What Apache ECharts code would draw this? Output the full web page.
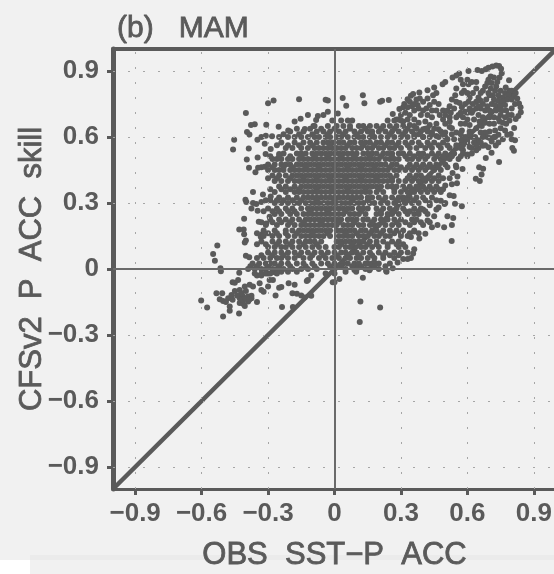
<!DOCTYPE html>
<html>
<head>
<meta charset="utf-8">
<style>html,body{margin:0;padding:0;background:#f1f1f1}#chart{width:554px;height:574px}</style>
<script src="https://cdn.jsdelivr.net/npm/echarts@6/dist/echarts.min.js"></script>
</head>
<body>
<div id="chart"></div>
<script>
const tickValues = [-0.9, -0.6, -0.3, 0, 0.3, 0.6, 0.9]
const tickLabels = ['\u22120.9', '\u22120.6', '\u22120.3', '0', '0.3', '0.6', '0.9']
const diagonal = [[-1, -1], [1, 1]]

// scattered points read one by one, [obs, cfs]
const leftEdge = [[-.275,.766],[-.30,.753],[-.16,.772],[-.04,.769],[-.03,.766],[-.40,.709],[-.03,.715],[-.12,.70],[-.075,.695],[-.05,.70],[-.153,.683],[-.18,.671],[-.083,.677],[-.36,.658],[-.377,.655],[-.308,.656],[-.252,.647],[-.134,.636],[-.095,.65],[-.209,.63],[-.395,.623],[-.384,.611],[-.453,.588],[-.348,.587],[-.33,.60],[-.31,.606],[-.282,.603],[-.458,.543],[-.387,.548],[-.315,.569],[-.288,.546],[-.396,.498],[-.347,.507],[-.311,.523],[-.25,.523],[-.386,.46],[-.345,.46],[-.357,.44],[-.315,.465],[-.28,.50],[-.368,.35],[-.323,.339],[-.288,.33],[-.402,.315],[-.398,.305],[-.368,.30],[-.353,.295],[-.375,.275],[-.33,.305],[-.31,.312],[-.347,.265],[-.408,.228],[-.342,.215],[-.308,.207],[-.293,.237],[-.43,.18],[-.41,.18],[-.408,.158],[-.327,.158],[-.333,.147],[-.40,.13],[-.405,.12],[-.529,.107],[-.548,.068],[-.54,.038],[-.515,.003],[-.513,-.01],[-.40,.06],[-.385,.053]]
const lowerLeft = [[-.43,-.017],[-.46,-.06],[-.45,-.062],[-.435,-.05],[-.533,-.11],[-.507,-.11],[-.602,-.143],[-.575,-.175],[-.503,-.216],[-.431,-.202],[-.473,-.17],[-.473,-.19],[-.518,-.137],[-.503,-.145],[-.48,-.133],[-.465,-.118],[-.45,-.10],[-.428,-.095],[-.405,-.08],[-.383,-.072],[-.368,-.08],[-.338,-.065],[-.33,-.095],[-.32,-.103],[-.293,-.05],[-.30,-.08],[-.278,-.05],[-.428,-.133],[-.413,-.125],[-.39,-.125],[-.375,-.122],[-.428,-.155],[-.413,-.158],[-.39,-.148],[-.405,-.168],[-.375,-.133],[-.35,-.15],[-.266,-.12],[-.25,-.085],[-.24,-.082],[-.207,-.065],[-.18,-.072],[-.19,-.11],[-.17,-.113],[-.15,-.12],[-.135,-.13],[-.105,-.122],[-.237,-.173],[-.188,-.173],[-.125,-.055],[-.12,-.05],[-.105,-.03],[-.35,-.03],[-.33,-.03],[-.30,-.02],[-.27,-.015],[-.24,-.012],[-.21,-.012],[-.17,-.012],[-.415,-.14],[-.40,-.135],[-.385,-.14],[-.42,-.11],[-.40,-.10],[-.44,-.12],[-.46,-.14],[-.49,-.15]]
const aroundOrigin = [[0,-.06],[-.008,-.06],[.022,-.045],[.128,-.04],[.05,-.012],[.098,-.012],[.158,-.006],[.235,-.012],[.117,-.148],[.206,-.175],[.114,-.241],[.31,.045],[.263,.003],[.233,-.008],[.18,.03],[.17,.015],[.10,.01],[.09,-.005],[.15,.025],[.285,.03],[.345,.05],[.355,.07],[.36,.09],[.33,.045]]
const lowerRight = [[.529,.127],[.41,.16],[.383,.139],[.345,.146],[.36,.17],[.538,.332],[.544,.297],[.575,.285],[.5,.30],[.497,.295],[.536,.232],[.51,.24],[.53,.20],[.495,.19],[.465,.20],[.44,.19],[.45,.24],[.42,.25],[.46,.27],[.42,.22],[.40,.27],[.48,.31],[.43,.29],[.47,.28],[.52,.335],[.50,.38],[.53,.385],[.553,.39],[.578,.455],[.555,.42],[.533,.436],[.548,.47],[.653,.463],[.671,.456],[.664,.43],[.638,.41],[.656,.40],[.743,.486],[.709,.528],[.683,.505],[.695,.553],[.728,.561],[.71,.58],[.725,.60]]
const upperArc = [[.743,.923],[.73,.925],[.713,.92],[.695,.915],[.683,.908],[.665,.90],[.646,.905],[.605,.90],[.563,.889],[.55,.88],[.533,.87],[.488,.84],[.50,.85],[.45,.825],[.42,.813],[.383,.802],[.345,.787],[.355,.795],[.33,.772],[.34,.76],[.315,.75],[.293,.727],[.31,.735],[.263,.705],[.128,.79],[.135,.753],[.037,.777],[.053,.742],[.206,.76],[.215,.765],[.245,.768],[.015,.707],[.40,.76],[.42,.775],[.445,.79],[.46,.80],[.415,.73],[.38,.73],[.375,.745],[.36,.72],[.34,.70],[.39,.70],[.42,.70],[.44,.69],[.46,.66],[.475,.70],[.49,.68],[.52,.645],[.33,.735],[.35,.74],[.32,.71],[.30,.70],[.28,.68],[.33,.68],[.36,.68],[.41,.67],[.43,.655],[.38,.665],[.40,.635],[.44,.62],[.47,.635],[.50,.62],[.53,.64],[.55,.62],[.57,.66],[.56,.70],[.52,.69],[.49,.72],[.47,.75],[.45,.76],[.43,.745]]
const rightArms = [[.752,.91],[.755,.89],[.745,.87],[.735,.85],[.73,.83],[.725,.81],[.715,.79],[.72,.87],[.705,.875],[.695,.86],[.69,.845],[.68,.83],[.67,.81],[.66,.80],[.65,.78],[.64,.76],[.625,.75],[.61,.73],[.60,.71],[.58,.69],[.60,.86],[.62,.85],[.64,.85],[.605,.84],[.585,.81],[.575,.80],[.60,.80],[.57,.86],[.58,.84],[.55,.82],[.545,.79],[.53,.77],[.52,.74],[.51,.72],[.50,.70],[.55,.76],[.565,.755],[.54,.73],[.525,.71],[.788,.858],[.773,.825],[.79,.81],[.80,.81],[.818,.80],[.81,.785],[.825,.775],[.833,.752],[.84,.735],[.841,.713],[.818,.682],[.83,.695],[.811,.641],[.796,.614],[.815,.585],[.80,.59],[.803,.55],[.81,.538],[.75,.81],[.77,.80],[.785,.79],[.74,.79],[.76,.78],[.78,.77],[.80,.77],[.72,.77],[.74,.765],[.76,.76],[.71,.75],[.69,.74],[.725,.745],[.75,.74],[.77,.745],[.68,.72],[.66,.73],[.64,.73],[.70,.72],[.73,.72],[.755,.72],[.775,.72],[.65,.70],[.62,.71],[.60,.68],[.63,.68],[.67,.69],[.70,.69],[.75,.70],[.77,.69],[.61,.655],[.64,.64],[.665,.65],[.72,.66],[.745,.67],[.775,.66],[.75,.64],[.77,.63],[.70,.625],[.725,.63],[.74,.61],[.68,.62],[.66,.62],[.69,.60],[.76,.59],[.78,.61],[.74,.575]]
const upperWeb = [[.575,.735],[.59,.75],[.605,.76],[.59,.715],[.57,.71],[.55,.69],[.59,.66],[.575,.63],[.61,.625],[.635,.60],[.60,.59],[.65,.585],[.67,.60],[.70,.595],[.72,.60],[.655,.67],[.68,.665],[.70,.66],[.72,.69],[.74,.685],[.785,.70],[.80,.73],[.815,.75],[.80,.70],[.79,.675],[.76,.665],[.67,.75],[.685,.77],[.70,.79],[.66,.765],[.65,.74],[.625,.72],[.695,.80],[.705,.82],[.71,.845],[.64,.82],[.625,.80],[.61,.78],[.46,.72],[.44,.72],[.40,.72],[.385,.775],[.37,.77],[.36,.75],[.29,.68],[.31,.67],[.34,.655],[.37,.64],[.42,.64],[.36,.61],[.40,.60],[.46,.605],[.51,.59],[.54,.59],[.57,.59],[.55,.55],[.58,.54],[.61,.555],[.64,.54],[.60,.52],[.67,.56],[.50,.66],[.52,.67]]

// dense cloud, one list of obs values for each cfs level
const cfsLevels = [.675,.65,.625,.60,.575,.55,.525,.50,.475,.45,.425,.40,.375,.35,.325,.30,.275,.25,.225,.20,.175,.15,.125,.10,.075,.05,.025,0,-.02]
const obs0675 = [-.01,.03,.06,.08,.24,.27,.30]
const obs0650 = [-.09,-.03,.01,.04,.07,.11,.13,.16,.19,.22,.25,.28,.31,.36]
const obs0625 = [-.20,-.14,-.08,-.05,-.02,.02,.05,.09,.12,.15,.17,.20,.23,.26,.29,.32,.35,.39,.42,.48]
const obs0600 = [-.25,-.21,-.18,-.15,-.12,-.09,-.07,-.04,-.02,.01,.03,.06,.09,.11,.13,.16,.18,.21,.24,.27,.30,.33,.36,.40,.43,.47,.50,.59,.62]
const obs0575 = [-.24,-.18,-.14,-.11,-.08,-.05,-.03,-.01,.02,.04,.07,.09,.12,.14,.16,.19,.21,.24,.26,.29,.32,.35,.38,.42,.45,.49,.60,.63,.66]
const obs0550 = [-.22,-.19,-.15,-.12,-.09,-.07,-.05,-.03,-.01,.01,.03,.05,.08,.10,.12,.15,.17,.20,.22,.25,.27,.30,.34,.37,.41,.44,.48,.52,.57,.62,.65]
const obs0525 = [-.23,-.17,-.15,-.13,-.10,-.08,-.06,-.04,-.02,0,.02,.04,.06,.08,.10,.13,.15,.17,.19,.22,.24,.26,.29,.31,.34,.38,.40,.44,.47,.50,.54,.58,.62]
const obs0500 = [-.26,-.24,-.21,-.19,-.16,-.14,-.12,-.10,-.08,-.06,-.04,-.02,0,.02,.04,.06,.08,.10,.12,.14,.16,.18,.20,.23,.25,.27,.29,.33,.35,.38,.41,.45,.48,.52,.56]
const obs0475 = [-.30,-.27,-.24,-.22,-.20,-.17,-.15,-.13,-.11,-.09,-.07,-.05,-.03,-.01,.01,.03,.05,.07,.09,.11,.13,.15,.17,.19,.21,.23,.26,.28,.34,.37,.40,.43,.46,.50]
const obs0450 = [-.30,-.27,-.25,-.23,-.20,-.18,-.16,-.14,-.12,-.10,-.08,-.06,-.04,-.02,0,.02,.04,.06,.08,.10,.12,.14,.16,.18,.20,.22,.24,.27,.29,.32,.35,.38,.41,.45,.48]
const obs0425 = [-.28,-.25,-.22,-.19,-.17,-.15,-.13,-.11,-.09,-.07,-.05,-.03,-.01,.01,.03,.05,.07,.09,.11,.13,.15,.17,.19,.21,.23,.25,.28,.34,.37,.39,.43,.47]
const obs0400 = [-.27,-.24,-.21,-.18,-.16,-.14,-.12,-.10,-.08,-.06,-.04,-.02,0,.02,.04,.06,.08,.10,.12,.14,.16,.18,.20,.22,.24,.26,.29,.32,.35,.38,.41,.44,.47]
const obs0375 = [-.25,-.22,-.18,-.15,-.13,-.11,-.09,-.07,-.05,-.03,-.01,.01,.03,.05,.07,.09,.11,.13,.15,.17,.19,.21,.24,.26,.28,.31,.34,.37,.40,.43,.46]
const obs0350 = [-.27,-.22,-.18,-.16,-.14,-.12,-.10,-.08,-.06,-.04,-.02,0,.02,.04,.06,.08,.10,.12,.14,.16,.19,.22,.27,.30,.33,.36,.39,.42,.45,.48]
const obs0325 = [-.25,-.21,-.17,-.14,-.12,-.10,-.08,-.06,-.04,-.02,0,.02,.04,.06,.08,.10,.12,.15,.17,.20,.23,.26,.29,.31,.34,.37,.40,.44]
const obs0300 = [-.27,-.24,-.21,-.18,-.16,-.13,-.11,-.09,-.07,-.05,-.03,-.01,.01,.03,.05,.07,.09,.11,.13,.16,.18,.21,.24,.27,.29,.32,.35,.38,.43]
const obs0275 = [-.30,-.26,-.22,-.19,-.15,-.12,-.10,-.08,-.06,-.04,-.02,0,.02,.04,.06,.08,.11,.13,.15,.19,.22,.25,.28,.31,.36,.39]
const obs0250 = [-.27,-.24,-.20,-.17,-.14,-.12,-.10,-.08,-.06,-.04,-.02,0,.02,.04,.07,.09,.11,.14,.19,.21,.24,.26,.29,.33,.36,.38]
const obs0225 = [-.29,-.25,-.22,-.19,-.16,-.13,-.11,-.09,-.07,-.05,-.03,-.01,.01,.03,.06,.08,.10,.13,.15,.18,.21,.24,.27,.30,.35,.37]
const obs0200 = [-.31,-.26,-.21,-.18,-.15,-.13,-.11,-.09,-.07,-.05,-.03,-.01,.01,.04,.06,.08,.11,.13,.16,.18,.20,.23,.26,.29,.34,.40]
const obs0175 = [-.32,-.27,-.22,-.19,-.16,-.14,-.12,-.10,-.08,-.06,-.04,-.02,.01,.03,.05,.07,.09,.12,.14,.17,.19,.22,.25,.28,.31,.36]
const obs0150 = [-.32,-.28,-.25,-.21,-.18,-.15,-.13,-.11,-.09,-.07,-.05,-.02,.02,.04,.06,.08,.11,.13,.15,.18,.20,.23,.25,.30,.33]
const obs0125 = [-.33,-.28,-.25,-.22,-.19,-.16,-.13,-.11,-.09,-.06,.01,.03,.05,.07,.09,.11,.13,.16,.19,.22,.26,.29]
const obs0100 = [-.30,-.27,-.24,-.22,-.19,-.16,-.13,-.10,-.07,-.04,0,.02,.05,.07,.09,.12,.14,.17,.20,.24,.29,.32]
const obs0075 = [-.30,-.27,-.24,-.21,-.18,-.15,-.12,-.09,-.06,-.03,0,.03,.05,.08,.10,.13,.16,.20,.23,.27,.30,.33]
const obs0050 = [-.35,-.32,-.29,-.26,-.24,-.21,-.18,-.14,-.11,-.07,-.04,-.01,.02,.05,.07,.10,.12,.15,.18,.22,.27]
const obs0025 = [-.37,-.34,-.31,-.29,-.27,-.24,-.21,-.17,-.14,-.10,-.06,-.03,0,.04,.06,.09,.11,.14,.17,.20,.25]
const obs0000 = [-.39,-.36,-.33,-.31,-.28,-.26,-.23,-.19,-.15,-.12,-.08,.0,.05,.10,.14,.16,.20]
const obsM020 = [-.36,-.33,-.31,-.29,-.26,-.04,.0]
const obsByLevel = [obs0675,obs0650,obs0625,obs0600,obs0575,obs0550,obs0525,obs0500,obs0475,obs0450,obs0425,obs0400,obs0375,obs0350,obs0325,obs0300,obs0275,obs0250,obs0225,obs0200,obs0175,obs0150,obs0125,obs0100,obs0075,obs0050,obs0025,obs0000,obsM020]

// points between those levels, mostly at the sides of the cloud
const midLevels = [.638,.612,.563,.512,.463,.412,.363,.312,.262,.212,.163,.112,.063,.012]
const mid0638 = [-.17,-.11,-.06,.0,.07,.14,.21,.27,.33,.37,.41,.45]
const mid0612 = [-.23,-.16,-.10,-.03,.04,.10,.17,.25,.31,.38,.44,.49,.53,.57,.61]
const mid0563 = [-.26,-.21,-.16,-.10,-.02,.06,.13,.18,.23,.28,.33,.39,.43,.47,.51,.55,.58,.64,.68]
const mid0512 = [-.29,-.25,-.20,-.15,-.09,-.03,.03,.09,.16,.21,.26,.32,.36,.39,.42,.46,.49,.53,.57,.60]
const mid0463 = [-.33,-.28,-.23,-.19,-.13,-.07,.0,.06,.12,.18,.25,.30,.33,.36,.39,.42,.44,.47,.51,.55]
const mid0412 = [-.30,-.26,-.20,-.14,-.08,-.02,.05,.12,.19,.26,.33,.36,.40,.42,.45,.49,.52]
const mid0363 = [-.29,-.24,-.20,-.16,-.08,-.01,.06,.14,.20,.27,.32,.35,.38,.41,.44,.47,.49]
const mid0312 = [-.29,-.26,-.23,-.19,-.15,-.08,.0,.08,.15,.22,.28,.33,.36,.41,.46]
const mid0262 = [-.32,-.28,-.25,-.21,-.18,-.11,-.03,.05,.12,.21,.27,.32,.34,.38,.41]
const mid0212 = [-.33,-.28,-.24,-.20,-.14,-.06,.02,.09,.17,.22,.28,.32,.36,.39,.43]
const mid0163 = [-.35,-.30,-.26,-.22,-.17,-.10,-.03,.05,.10,.16,.21,.27,.30,.34,.38]
const mid0112 = [-.35,-.31,-.26,-.20,-.14,-.08,.03,.08,.15,.19,.24,.28,.31]
const mid0063 = [-.33,-.28,-.23,-.16,-.10,-.05,.01,.06,.11,.17,.22,.25,.29]
const mid0012 = [-.38,-.35,-.30,-.25,-.20,-.13,-.09,-.02,.03,.08,.12,.18,.23]
const obsByMidLevel = [mid0638,mid0612,mid0563,mid0512,mid0463,mid0412,mid0363,mid0312,mid0262,mid0212,mid0163,mid0112,mid0063,mid0012]

const ink = '#5a5a5a'
const font = 'Liberation Sans'
const points = [...leftEdge, ...lowerLeft, ...aroundOrigin, ...lowerRight, ...upperArc, ...rightArms, ...upperWeb]
obsByLevel.forEach((list, i) => list.forEach(x => points.push([x, cfsLevels[i]])))
obsByMidLevel.forEach((list, i) => list.forEach(x => points.push([x, midLevels[i]])))

const gridLines = []
for (const v of tickValues) {
  if (v !== 0) gridLines.push({ xAxis: v }, { yAxis: v })
}

const heavy = { color: ink, fontFamily: font, fontSize: 30, fontWeight: 'normal', textBorderColor: ink, textBorderWidth: 0.8 }

const baseAxis = {
  type: 'value', min: -1, max: 1, interval: 0.1,
  splitLine: { show: false },
  axisTick: { show: true, customValues: tickValues, length: 6, lineStyle: { color: ink, width: 3 } },
  axisLabel: {
    customValues: tickValues, color: ink, fontFamily: font, fontSize: 26, fontWeight: 'bold', margin: 14,
    formatter: v => tickLabels[tickValues.findIndex(t => Math.abs(t - v) < 1e-6)] || ''
  },
  nameLocation: 'middle',
  nameMoveOverlap: false,
  nameTextStyle: { ...heavy, fontSize: 31 }
}

const chart = echarts.init(document.getElementById('chart'), null, { renderer: 'canvas' })
chart.setOption({
  backgroundColor: '#f1f1f1',
  animation: false,
  title: {
    text: '(b)   MAM', left: 112, top: 9,
    textStyle: heavy
  },
  graphic: [
    { type: 'rect', silent: true, z: -1, shape: { x: 30, y: 555, width: 524, height: 5 }, style: { fill: '#ebebeb' } },
    { type: 'rect', silent: true, z: -1, shape: { x: 0, y: 560, width: 30, height: 14 }, style: { fill: '#ffffff' } }
  ],
  grid: { left: 113, top: 49, width: 443, height: 440, outerBoundsMode: 'none' },
  xAxis: [
    {
      ...baseAxis,
      axisLabel: { ...baseAxis.axisLabel, margin: 12 },
      name: 'OBS  SST\u2212P  ACC',
      nameGap: 51,
      axisLine: { onZero: false, lineStyle: { color: ink, width: 3 } }
    },
    {
      type: 'value', position: 'top', min: -1, max: 1,
      axisTick: { show: false }, axisLabel: { show: false }, splitLine: { show: false },
      axisLine: { show: true, onZero: false, lineStyle: { color: ink, width: 4 } }
    }
  ],
  yAxis: {
    ...baseAxis,
    name: 'CFSv2  P  ACC  skill',
    nameGap: 65,
    axisLine: { onZero: false, lineStyle: { color: ink, width: 5 } }
  },
  series: [
    {
      type: 'scatter', data: [], z: 1, silent: true,
      markLine: {
        silent: true, symbol: 'none', animation: false, label: { show: false },
        lineStyle: { color: '#a6a6a6', width: 1, type: [2, 13] },
        data: gridLines
      }
    },
    {
      type: 'scatter', data: [], z: 2, silent: true,
      markLine: {
        silent: true, symbol: 'none', animation: false, label: { show: false },
        lineStyle: { color: '#6a6a6a', width: 2, type: 'solid' },
        data: [{ xAxis: 0 }, { yAxis: 0 }]
      }
    },
    {
      type: 'line', data: diagonal, z: 3, silent: true, showSymbol: false,
      lineStyle: { color: ink, width: 4.5 }
    },
    {
      type: 'scatter', data: points, z: 4, silent: true,
      symbol: 'circle', symbolSize: 6, itemStyle: { color: ink, opacity: 1 }
    }
  ]
})
</script>
</body>
</html>
